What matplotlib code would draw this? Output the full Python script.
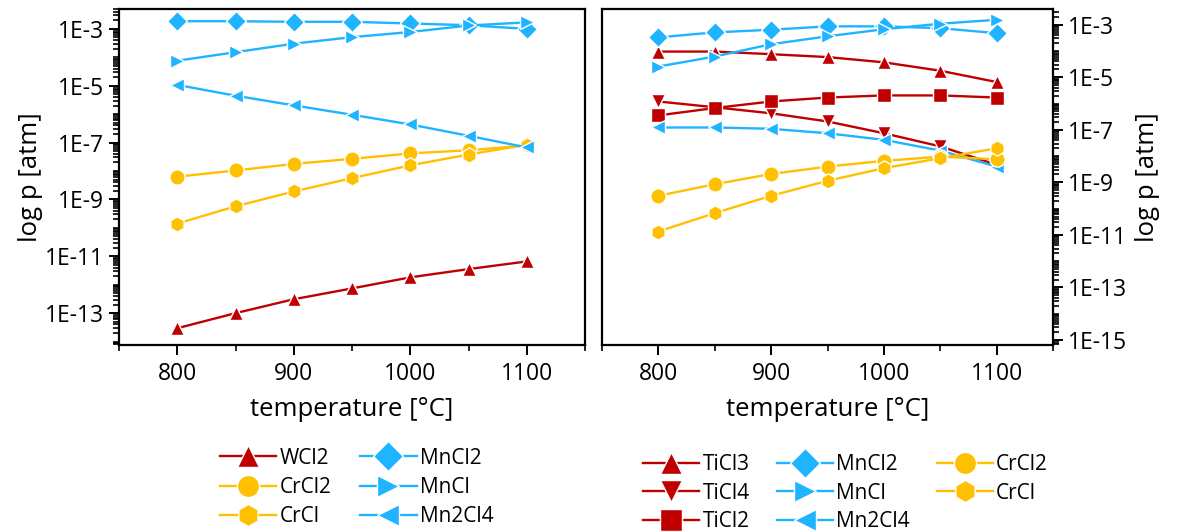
import numpy as np
import matplotlib
matplotlib.use('Agg')
import matplotlib.pyplot as plt
from matplotlib.ticker import FixedLocator, LogLocator, MultipleLocator, FuncFormatter, NullFormatter

plt.rcParams['font.family'] = ['Open Sans', 'DejaVu Sans']

# temperatures [°C]
temps = [800, 850, 900, 950, 1000, 1050, 1100]

# log10 of partial pressures [atm]
# left panel
L_WCl2 = [-13.53, -13.0, -12.51, -12.13, -11.74, -11.45, -11.18]
L_CrCl2 = [-8.2, -7.98, -7.75, -7.57, -7.38, -7.27, -7.10]
L_CrCl = [-9.85, -9.24, -8.72, -8.25, -7.80, -7.42, -7.07]
L_MnCl2 = [-2.73, -2.73, -2.75, -2.75, -2.81, -2.87, -3.0]
L_MnCl = [-4.12, -3.82, -3.52, -3.29, -3.11, -2.88, -2.77]
L_Mn2Cl4 = [-4.97, -5.35, -5.69, -6.02, -6.36, -6.76, -7.17]
# right panel
R_TiCl3 = [-4.02, -4.02, -4.12, -4.23, -4.43, -4.75, -5.18]
R_TiCl4 = [-5.92, -6.14, -6.37, -6.68, -7.13, -7.63, -8.33]
R_TiCl2 = [-6.45, -6.17, -5.92, -5.77, -5.69, -5.69, -5.77]
R_MnCl2 = [-3.48, -3.29, -3.19, -3.06, -3.06, -3.13, -3.32]
R_MnCl = [-4.59, -4.21, -3.74, -3.44, -3.17, -2.96, -2.81]
R_Mn2Cl4 = [-6.91, -6.91, -6.96, -7.13, -7.38, -7.79, -8.40]
R_CrCl2 = [-9.51, -9.07, -8.68, -8.40, -8.18, -8.02, -8.12]
R_CrCl = [-10.87, -10.17, -9.51, -8.94, -8.46, -8.08, -7.70]

red = '#C00000'
blue = '#1EB4FF'
yellow = '#FFC000'

fig = plt.figure(figsize=(11.79, 5.31), dpi=100)
ax1 = fig.add_axes([119/1179, 1-345/531, 466/1179, 336/531])
ax2 = fig.add_axes([602/1179, 1-345/531, 451/1179, 336/531])

def draw(ax, y, c, m, lab):
    size = 11 if m in ('h', 'o') else 10.5
    return ax.plot(temps, 10**np.array(y), color=c, marker=m, ms=size, lw=1.7,
                   mec='white', mew=1.0, label=lab)[0]

h1 = [draw(ax1, L_WCl2, red, '^', 'WCl2'),
      draw(ax1, L_CrCl2, yellow, 'o', 'CrCl2'),
      draw(ax1, L_CrCl, yellow, 'h', 'CrCl'),
      draw(ax1, L_MnCl2, blue, 'D', 'MnCl2'),
      draw(ax1, L_MnCl, blue, '>', 'MnCl'),
      draw(ax1, L_Mn2Cl4, blue, '<', 'Mn2Cl4')]

h2 = [draw(ax2, R_TiCl3, red, '^', 'TiCl3'),
      draw(ax2, R_TiCl4, red, 'v', 'TiCl4'),
      draw(ax2, R_TiCl2, red, 's', 'TiCl2'),
      draw(ax2, R_MnCl2, blue, 'D', 'MnCl2'),
      draw(ax2, R_MnCl, blue, '>', 'MnCl'),
      draw(ax2, R_Mn2Cl4, blue, '<', 'Mn2Cl4'),
      draw(ax2, R_CrCl2, yellow, 'o', 'CrCl2'),
      draw(ax2, R_CrCl, yellow, 'h', 'CrCl')]

fmt = FuncFormatter(lambda v, p: '1E%d' % round(np.log10(v)))

for ax in (ax1, ax2):
    ax.set_yscale('log')
    ax.set_xlim(750, 1150)
    ax.xaxis.set_major_locator(MultipleLocator(100))
    ax.xaxis.set_minor_locator(MultipleLocator(50))
    ax.set_xticks([800, 900, 1000, 1100])
    ax.tick_params(which='major', direction='out', length=7, width=1.4, labelsize=16.5)
    ax.tick_params(which='minor', direction='out', length=4, width=1.2)
    ax.tick_params(axis='x', top=False, pad=5)
    for s in ax.spines.values():
        s.set_linewidth(1.6)
    ax.set_xlabel('temperature [°C]', fontsize=18.5, labelpad=8)
    ax.yaxis.set_minor_locator(LogLocator(base=10, subs=np.arange(1, 10), numticks=100))
    ax.yaxis.set_minor_formatter(NullFormatter())

ax1.set_ylim(10**-14.12, 10**-2.30)
ax1.yaxis.set_major_locator(FixedLocator([10.0**e for e in range(-13, -2, 2)]))
ax1.yaxis.set_major_formatter(fmt)
ax1.tick_params(axis='y', which='both', right=False)
ax1.set_ylabel('log p [atm]', fontsize=18.5, labelpad=2)

ax2.set_ylim(10**-15.19, 10**-2.40)
ax2.yaxis.set_major_locator(FixedLocator([10.0**e for e in range(-15, -2, 2)]))
ax2.yaxis.set_major_formatter(fmt)
ax2.yaxis.tick_right()
ax2.yaxis.set_label_position('right')
ax2.tick_params(axis='y', which='both', left=False)
ax2.set_ylabel('log p [atm]', fontsize=18.5, labelpad=6)

ax1.legend(handles=h1, loc='upper center', bbox_to_anchor=(0.51, -0.25), ncol=2,
           frameon=False, fontsize=15, markerscale=1.45, handlelength=2.7,
           handletextpad=0.15, columnspacing=1.4, labelspacing=0.4)
ax2.legend(handles=h2, loc='upper center', bbox_to_anchor=(0.54, -0.27), ncol=3,
           frameon=False, fontsize=15, markerscale=1.45, handlelength=2.7,
           handletextpad=0.15, columnspacing=1.3, labelspacing=0.35)

fig.savefig('out.png', dpi=100)
